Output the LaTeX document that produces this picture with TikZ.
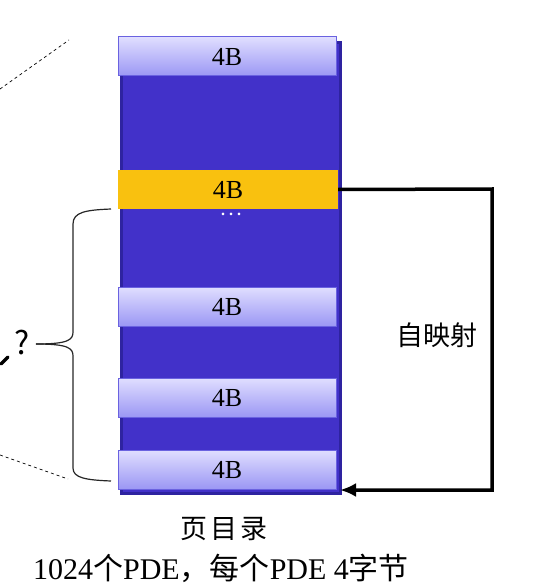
\documentclass[tikz,border=0pt]{standalone}
\usepackage{fontspec}
\setmainfont{Liberation Serif}
\newfontfamily\cjk{Noto Sans CJK SC}
\usetikzlibrary{arrows.meta,calc}
\definecolor{bodyblue}{HTML}{4231C9}
\definecolor{bodyedge}{HTML}{2E23A0}
\definecolor{boxtop}{HTML}{E0DEFF}
\definecolor{boxbot}{HTML}{9B97F4}
\definecolor{boxedge}{HTML}{6A62E0}
\definecolor{pdeyellow}{HTML}{F9C10F}
\tikzset{
  pdebox/.style={rectangle, minimum width=218pt, minimum height=39pt, inner sep=0pt,
    top color=boxtop, bottom color=boxbot, draw=boxedge, line width=1pt,
    font=\fontsize{26}{27}\selectfont},
  selfbox/.style={rectangle, minimum width=220pt, minimum height=39pt, inner sep=0pt,
    fill=pdeyellow, font=\fontsize{26}{27}\selectfont},
  bodyrect/.style={rectangle, minimum width=219pt, minimum height=451pt, inner sep=0pt,
    fill=bodyblue, draw=bodyedge, line width=2.5pt},
  selfarrow/.style={line width=3.5pt, -{Latex[length=16pt,width=14pt]}},
  guide/.style={dashed, line width=0.7pt, black},
  bracepath/.style={line width=1.2pt, black!85},
  cjklabel/.style={font=\cjk\fontsize{27}{28}\selectfont, inner sep=0pt},
}
\begin{document}
\begin{tikzpicture}[x=1pt,y=-1pt]
\useasboundingbox (0,0) rectangle (549,588);
% body of the page directory
\node[bodyrect] (body) at (231,268) {};
% entries
\node[pdebox] (b1) at (227,56.5) {4B};
\node[selfbox] (yb) at (228,189.5) {4B};
\node[pdebox] (b3) at (227,306.5) {4B};
\node[pdebox] (b4) at (227,397.5) {4B};
\node[pdebox] (b5) at (227,469.5) {4B};
\node[text=white, font=\bfseries\fontsize{16}{16}\selectfont, inner sep=0pt] (dots) at (231,214) {.\hspace{4pt}.\hspace{4pt}.};
% self-mapping arrow
\coordinate (t1) at (492,189);
\coordinate (t2) at (492,490);
\coordinate (arrEnd) at (340,490);
\draw[selfarrow] (yb.east) -- (t1) -- (t2) -- (arrEnd);
\node[cjklabel] (selfmap) at (437,335) {自\hspace{0pt}映\hspace{0pt}射};
% captions
\node[cjklabel] (cap1) at (224,529) {页\hspace{3pt}目\hspace{3pt}录};
\node[inner sep=0pt, font=\fontsize{30}{31}\selectfont] (cap2) at (221,568)
  {1024{\cjk 个}PDE{\cjk ，每个}PDE 4{\cjk 字节}};
% brace
\coordinate (brTop) at (111,209);
\coordinate (brBot) at (111,481);
\coordinate (brTip) at (36,344);
\draw[bracepath] (brTop) .. controls (86,210) and (73,212) .. (73,224)
  -- (73,332) .. controls (73,340) and (68,344) .. (brTip);
\draw[bracepath] (brBot) .. controls (86,480) and (73,478) .. (73,468)
  -- (73,356) .. controls (73,348) and (68,344) .. (brTip);
\node[font=\cjk\fontsize{32}{32}\selectfont, inner sep=0pt] (q) at (22,343) {?};
% cut-off mark at left edge
\draw[line width=3.5pt, line cap=round] (1,364) -- (8,357);
% dashed guide lines
\coordinate (g1a) at (0,89);
\coordinate (g1b) at (69,40);
\coordinate (g2a) at (0,455);
\coordinate (g2b) at (68,479);
\draw[guide] (g1a) -- (g1b);
\draw[guide] (g2a) -- (g2b);
\end{tikzpicture}
\end{document}
